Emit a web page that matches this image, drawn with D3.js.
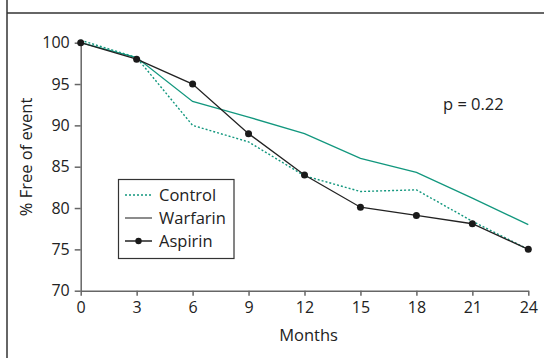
<!DOCTYPE html>
<html>
<head>
<meta charset="utf-8">
<script src="https://cdn.jsdelivr.net/npm/d3@7"></script>
<style>
	body { margin: 0; background: #fff; }
	svg { display: block; font-family: 'Open Sans', 'Noto Sans', sans-serif; }
	.axis path, .axis line { stroke: #666; stroke-width: 1.5; }
	.axis text { font-size: 16px; fill: #222; font-family: 'Open Sans', sans-serif; }
</style>
</head>
<body>
<svg id="chart" width="544" height="358"></svg>
<script>
const months = [0, 3, 6, 9, 12, 15, 18, 21, 24];
const control = [100.3, 98.2, 90, 88, 83.9, 82, 82.2, 78.4, 75];
const warfarin = [100, 98.2, 92.9, 91, 89, 86, 84.3, 81.2, 78];
const aspirin = [100, 98, 95, 89, 84, 80.1, 79.1, 78.1, 75];
const yTicks = [70, 75, 80, 85, 90, 95, 100];
const legendNames = ['Control', 'Warfarin', 'Aspirin'];

const teal = '#12977e';
const labelSize = '16.5px';
const svg = d3.select('#chart');

// frame
svg.append('line').attr('x1', 7).attr('x2', 7).attr('y1', 0).attr('y2', 358)
	.attr('stroke', '#333').attr('stroke-width', 1.5);
svg.append('line').attr('x1', 7).attr('x2', 544).attr('y1', 13).attr('y2', 13)
	.attr('stroke', '#333').attr('stroke-width', 1.5);

let x = d3.scaleLinear().domain([0, 24]).range([80.7, 528.3]);
let y = d3.scaleLinear().domain([70, 100]).range([290.7, 42.7]);

svg.append('g').attr('class', 'axis')
	.attr('transform', 'translate(0,' + y(70) + ')')
	.call(d3.axisBottom(x).tickValues(months).tickSize(5).tickSizeOuter(0).tickPadding(6));
svg.append('g').attr('class', 'axis')
	.attr('transform', 'translate(' + x(0) + ',0)')
	.call(d3.axisLeft(y).tickValues(yTicks).tickSize(6).tickSizeOuter(0).tickPadding(5));
svg.selectAll('.axis .domain').attr('stroke', '#666');

svg.append('text')
	.attr('x', (x(0) + x(24)) / 2 + 4)
	.attr('y', 341)
	.attr('text-anchor', 'middle')
	.attr('font-size', labelSize)
	.attr('fill', '#222')
	.text('Months');
svg.append('text')
	.attr('transform', 'translate(32,157) rotate(-90)')
	.attr('text-anchor', 'middle')
	.attr('font-size', labelSize)
	.attr('fill', '#222')
	.text('% Free of event');

svg.append('text')
	.attr('x', 443)
	.attr('y', 110)
	.attr('font-size', labelSize)
	.attr('fill', '#222')
	.text('p = 0.22');

let line = d3.line()
	.x((d, i) => x(months[i]))
	.y(d => y(d));

svg.append('path').datum(warfarin).attr('d', line)
	.attr('fill', 'none').attr('stroke', teal).attr('stroke-width', 1.3);
svg.append('path').datum(control).attr('d', line)
	.attr('fill', 'none').attr('stroke', teal).attr('stroke-width', 1.4)
	.attr('stroke-dasharray', '2,2');
svg.append('path').datum(aspirin).attr('d', line)
	.attr('fill', 'none').attr('stroke', '#222').attr('stroke-width', 1.3);
svg.selectAll('.dot').data(aspirin).enter().append('circle')
	.attr('class', 'dot')
	.attr('cx', (d, i) => x(months[i]))
	.attr('cy', d => y(d))
	.attr('r', 3.5)
	.attr('fill', '#1a1a1a');

// legend
let lg = svg.append('g');
lg.append('rect').attr('x', 118.5).attr('y', 179.5).attr('width', 115.5).attr('height', 79)
	.attr('fill', '#fff').attr('stroke', '#333').attr('stroke-width', 1.2);
let rows = lg.selectAll('.row').data(legendNames).enter().append('g')
	.attr('class', 'row')
	.attr('transform', (d, i) => 'translate(0,' + (195 + i * 23) + ')');
rows.append('line').attr('x1', 125).attr('x2', 152).attr('y1', 0).attr('y2', 0)
	.attr('stroke', (d, i) => i === 0 ? teal : (i === 1 ? '#666' : '#222'))
	.attr('stroke-width', (d, i) => i === 0 ? 1.4 : 1.5)
	.attr('stroke-dasharray', (d, i) => i === 0 ? '2,2' : null);
rows.filter((d, i) => i === 2).append('circle')
	.attr('cx', 138.5).attr('cy', 0).attr('r', 3.2).attr('fill', '#1a1a1a');
rows.append('text').attr('x', 159).attr('y', 6)
	.attr('font-size', labelSize).attr('fill', '#222')
	.text(d => d);
</script>
</body>
</html>
